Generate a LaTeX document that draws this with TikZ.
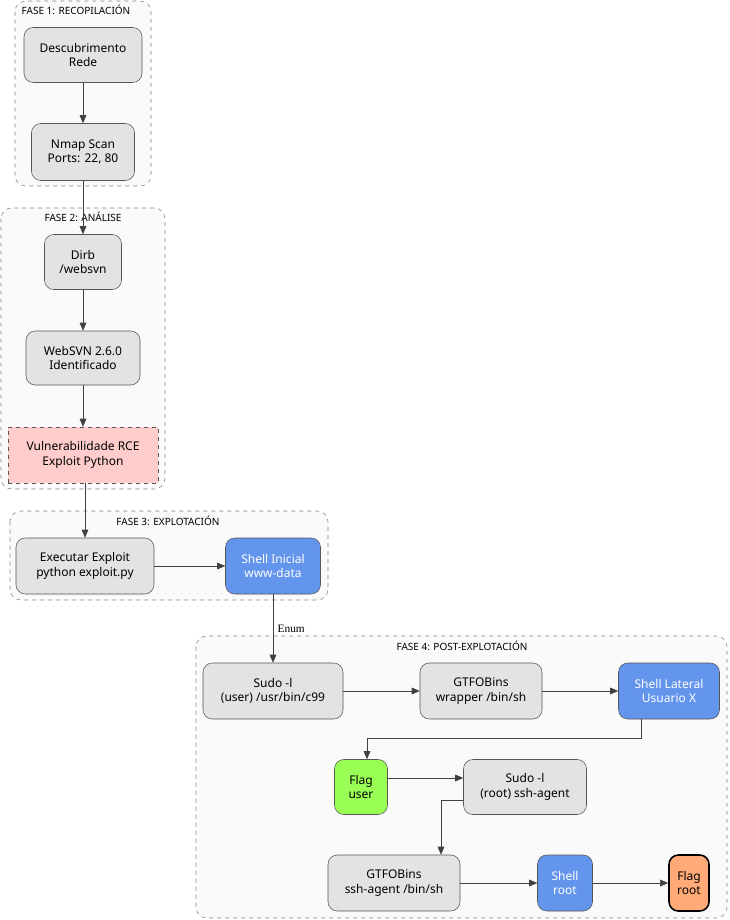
\documentclass[tikz,border=0pt]{standalone}
\usepackage{fontspec}
\setmainfont{Noto Sans}
\newfontfamily\edgefont{Liberation Serif}
\usetikzlibrary{arrows.meta}
\definecolor{boxgray}{HTML}{E3E3E3}
\definecolor{linegray}{HTML}{555555}
\definecolor{vulnpink}{HTML}{FFCCCC}
\definecolor{shellblue}{HTML}{6495ED}
\definecolor{flaggreen}{HTML}{99FF55}
\definecolor{flagorange}{HTML}{FFAA77}
\begin{document}
\begin{tikzpicture}[x=0.75pt,y=-0.75pt,
    phase/.style ={draw=gray, dashed, rounded corners=8pt, fill=black!2},
    phaselabel/.style ={font=\fontsize{7.5}{9}\selectfont},
    task/.style ={draw=linegray, rounded corners=7pt, fill=boxgray, align=center,
      font=\fontsize{9}{11}\selectfont, inner sep=0pt},
    shell/.style ={task, fill=shellblue, text=white},
    link/.style ={draw=black!75, -{Triangle[length=6pt,width=5pt]}}]
   \useasboundingbox (0,0) rectangle (729,920);
   % phases
   \draw[phase] (15,1) rectangle (151,186);
   \node[phaselabel] (p1) at (76,10) {FASE 1: RECOPILACIÓN};
   \draw[phase] (1,208) rectangle (165,489);
   \node[phaselabel] (p2) at (83,217) {FASE 2: ANÁLISE};
   \draw[phase] (10,511) rectangle (328,600);
   \node[phaselabel] (p3) at (168,521) {FASE 3: EXPLOTACIÓN};
   \draw[phase] (196,636) rectangle (727,918);
   \node[phaselabel] (p4) at (462,646) {FASE 4: POST-EXPLOTACIÓN};

   % steps
   \node[task, minimum width=118*0.75pt, minimum height=55*0.75pt] (A) at (83,55) {Descubrimento\\Rede};
   \node[task, minimum width=103*0.75pt, minimum height=57*0.75pt] (B) at (83,152) {Nmap Scan\\Ports: 22, 80};
   \node[task, minimum width=77*0.75pt, minimum height=55*0.75pt] (C) at (83,262) {Dirb\\/websvn};
   \node[task, minimum width=114*0.75pt, minimum height=54*0.75pt] (D) at (83,358) {WebSVN 2.6.0\\Identificado};
   \node[task, rounded corners=0pt, dashed, fill=vulnpink, minimum width=150*0.75pt, minimum height=56*0.75pt] (E) at (83,455) {Vulnerabilidade RCE\\Exploit Python};
   \node[task, minimum width=138*0.75pt, minimum height=56*0.75pt] (F) at (85,566) {Executar Exploit\\python exploit.py};
   \node[shell, minimum width=95*0.75pt, minimum height=56*0.75pt] (G) at (273,566) {Shell Inicial\\www-data};
   \node[task, minimum width=140*0.75pt, minimum height=56*0.75pt] (H) at (273,691) {Sudo -l\\(user) /usr/bin/c99};
   \node[task, minimum width=122*0.75pt, minimum height=56*0.75pt] (I) at (481,691) {GTFOBins\\wrapper /bin/sh};
   \node[shell, minimum width=101*0.75pt, minimum height=56*0.75pt] (J) at (669,691) {Shell Lateral\\Usuario X};
   \node[task, fill=flaggreen, minimum width=53*0.75pt, minimum height=55*0.75pt] (K) at (361,787) {Flag\\user};
   \node[task, minimum width=123*0.75pt, minimum height=55*0.75pt] (L) at (525,787) {Sudo -l\\(root) ssh-agent};
   \node[task, minimum width=132*0.75pt, minimum height=56*0.75pt] (M) at (394,883) {GTFOBins\\ssh-agent /bin/sh};
   \node[shell, minimum width=55*0.75pt, minimum height=56*0.75pt] (N) at (565,883) {Shell\\root};
   \node[task, very thick, draw=black, fill=flagorange, minimum width=40*0.75pt, minimum height=56*0.75pt] (O) at (689,883) {Flag\\root};

   \coordinate (j1) at (641,738);
   \coordinate (j2) at (367,738);
   \coordinate (l1) at (441,800);

   \draw[link] (A) to (B);
   \draw[link] (B) to (C);
   \draw[link] (C) to (D);
   \draw[link] (D) to (E);
   \draw[link] (E.south -| F.north) to (F);
   \draw[link] (F) to (G);
   \draw[link] (G) to node[right, font=\edgefont\fontsize{8.5}{10}\selectfont] (enum) {Enum} (H);
   \draw[link] (H) to (I);
   \draw[link] (I) to (J);
   \draw[link] (J.south -| j1) -- (j1) -- (j2) -- (j2 |- K.north);
   \draw[link] (K.east |- 0,778) -- (L.west |- 0,778);
   \draw[link] (L.west |- l1) -- (l1) -- (l1 |- M.north);
   \draw[link] (M) to (N);
   \draw[link] (N) to (O);
 \end{tikzpicture}
\end{document}
